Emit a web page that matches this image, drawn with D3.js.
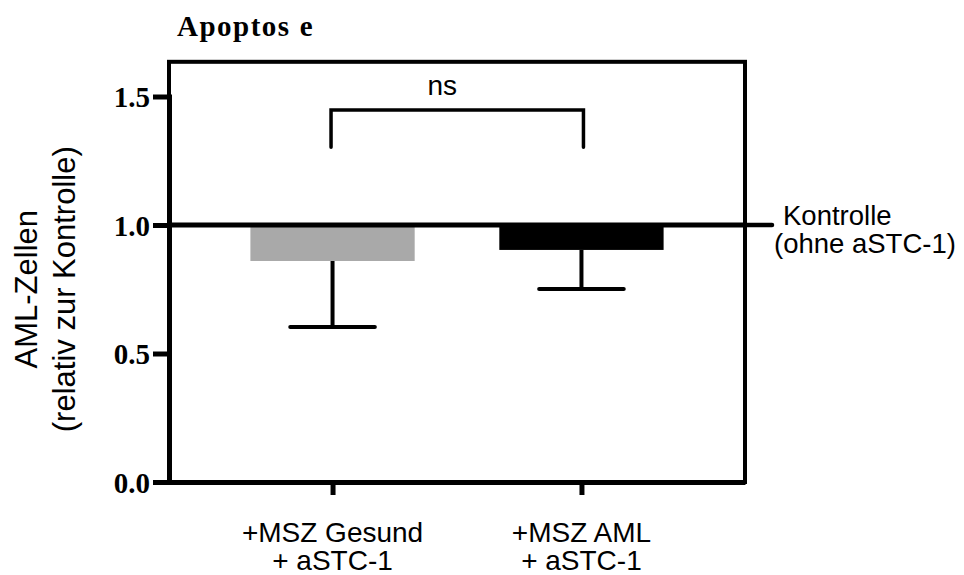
<!DOCTYPE html>
<html>
<head>
<meta charset="utf-8">
<script src="https://cdn.jsdelivr.net/npm/d3@7"></script>
<style>
  html, body { margin: 0; padding: 0; background: #fff; }
  svg { display: block; }
</style>
</head>
<body>
<svg id="chart" width="964" height="575"></svg>
<script>
// Apoptosis of AML cells relative to control (control = 1.0)
const categories = ["+MSZ Gesund", "+MSZ AML"];
const subLabels = ["+ aSTC-1", "+ aSTC-1"];
const means = [0.86, 0.903];
const errors = [0.257, 0.152];
const barColors = ["#a9a9a9", "#000000"];
const yTicks = [0.0, 0.5, 1.0, 1.5];
const controlValue = 1.0;
const sigLabel = "ns";

const W = 964, H = 575;
const plot = { left: 169, right: 745, top: 62, bottom: 482 };
const yTop = 1.5;       // highest labelled tick
const yFrame = 1.635;   // value at top edge of frame

const svg = d3.select("#chart");

const y = d3.scaleLinear().domain([0, yTop]).range([plot.bottom, 96.5]);
const x = d3.scalePoint().domain(categories).range([plot.left, plot.right]).padding(0.657);
const step = x.step();
const barW = step * 0.66;
const capW = step * 0.34;

const serif = "'Liberation Serif', 'Times New Roman', serif";
const sans = "'Liberation Sans', Arial, sans-serif";

// Frame
svg.append("rect")
  .attr("x", plot.left).attr("y", y(yFrame))
  .attr("width", plot.right - plot.left)
  .attr("height", plot.bottom - y(yFrame))
  .attr("fill", "none").attr("stroke", "#000").attr("stroke-width", 4);

// Bars hang from control level down to the mean
svg.selectAll("rect.bar").data(categories).enter().append("rect")
  .attr("class", "bar")
  .attr("x", d => x(d) - barW / 2)
  .attr("y", y(controlValue))
  .attr("width", barW)
  .attr("height", (d, i) => y(means[i]) - y(controlValue))
  .attr("fill", (d, i) => barColors[i]);

// Error bars (pointing away from control)
const eb = svg.append("g").attr("stroke", "#000").attr("stroke-width", 4);
categories.forEach((c, i) => {
  eb.append("line")
    .attr("x1", x(c)).attr("x2", x(c))
    .attr("y1", y(means[i])).attr("y2", y(means[i] - errors[i]));
  eb.append("line")
    .attr("x1", x(c) - capW / 2).attr("x2", x(c) + capW / 2)
    .attr("y1", y(means[i] - errors[i])).attr("y2", y(means[i] - errors[i]))
    .attr("stroke-linecap", "round");
});

// Control line with outer tick
svg.append("line")
  .attr("x1", plot.left).attr("x2", plot.right)
  .attr("y1", y(controlValue)).attr("y2", y(controlValue))
  .attr("stroke", "#000").attr("stroke-width", 5);
svg.append("line")
  .attr("x1", plot.right).attr("x2", plot.right + 27)
  .attr("y1", y(controlValue)).attr("y2", y(controlValue))
  .attr("stroke", "#000").attr("stroke-width", 4.5).attr("stroke-linecap", "round");

const ctl = svg.append("text")
  .attr("font-family", sans).attr("font-size", 27.5).attr("fill", "#000");
ctl.append("tspan").attr("x", plot.right + 38).attr("y", y(controlValue)).text("Kontrolle");
ctl.append("tspan").attr("x", plot.right + 29).attr("y", y(controlValue) + 28).text("(ohne aSTC-1)");

// Y axis
const yAxis = d3.axisLeft(y).tickValues(yTicks).tickFormat(d3.format(".1f"))
  .tickSize(16).tickSizeOuter(0).tickPadding(3);
const gy = svg.append("g").attr("transform", `translate(${plot.left},0)`).call(yAxis);
gy.select(".domain").attr("stroke-width", 5).attr("stroke-linecap", "square");
gy.selectAll(".tick line").attr("stroke-width", 5);
gy.selectAll(".tick text")
  .attr("font-family", serif).attr("font-weight", "bold").attr("font-size", 29)
  .attr("fill", "#000").attr("dy", 10);

// X axis
const xAxis = d3.axisBottom(x).tickSize(13).tickSizeOuter(0).tickFormat("");
const gx = svg.append("g").attr("transform", `translate(0,${plot.bottom})`).call(xAxis);
gx.select(".domain").attr("stroke-width", 5);
gx.selectAll(".tick line").attr("stroke-width", 5);

const xl = svg.append("g").attr("font-family", sans).attr("font-size", 28)
  .attr("text-anchor", "middle").attr("fill", "#000");
categories.forEach((c, i) => {
  const t = xl.append("text");
  t.append("tspan").attr("x", x(c)).attr("y", plot.bottom + 60).text(c);
  t.append("tspan").attr("x", x(c)).attr("y", plot.bottom + 88).text(subLabels[i]);
});

// Y axis title
const yMid = (y(0) + y(yTop)) / 2;
const yt = svg.append("g").attr("font-family", sans).attr("font-size", 31)
  .attr("text-anchor", "middle").attr("fill", "#000");
yt.append("text").attr("transform", `translate(37,${yMid}) rotate(-90)`).text("AML-Zellen");
yt.append("text").attr("transform", `translate(75,${yMid}) rotate(-90)`).text("(relativ zur Kontrolle)");

// Significance bracket
const sigTop = 1.447, sigFoot = 1.303;
const bx1 = x(categories[0]) - 1.5, bx2 = x(categories[1]) + 2;
svg.append("path")
  .attr("d", d3.line()([[bx1, y(sigFoot)], [bx1, y(sigTop)], [bx2, y(sigTop)], [bx2, y(sigFoot)]]))
  .attr("fill", "none").attr("stroke", "#000").attr("stroke-width", 3.5)
  .attr("stroke-linecap", "round");
svg.append("text")
  .attr("x", (bx1 + bx2) / 2 - 15).attr("y", y(sigTop) - 15)
  .attr("text-anchor", "middle").attr("font-family", sans).attr("font-size", 28)
  .attr("fill", "#000").text(sigLabel);

// Title
const title = svg.append("text").attr("x", 177).attr("y", 36)
  .attr("font-family", serif).attr("font-weight", "bold").attr("font-size", 29)
  .attr("letter-spacing", 1.5).attr("fill", "#000");
title.append("tspan").text("Apoptos");
title.append("tspan").attr("dx", 9).text("e");
</script>
</body>
</html>
